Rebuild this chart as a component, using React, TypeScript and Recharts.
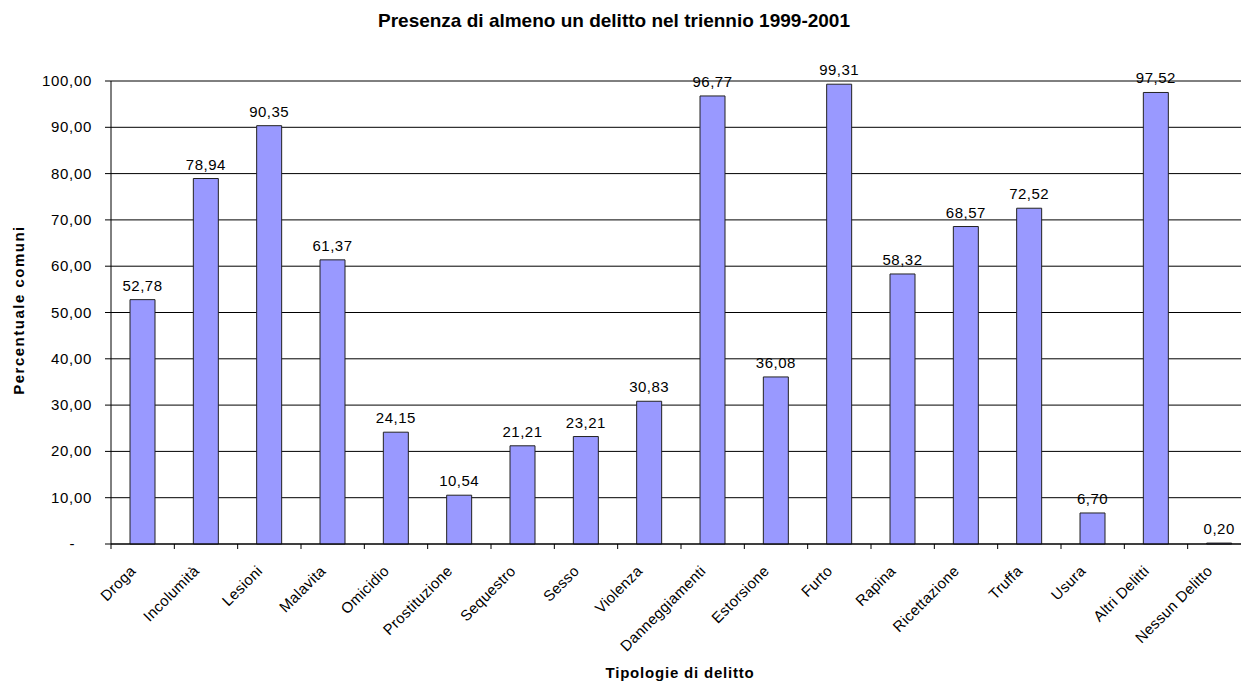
import { Bar, BarChart, CartesianGrid, LabelList, XAxis, YAxis } from "recharts";

const categories = [
  "Droga",
  "Incolumità",
  "Lesioni",
  "Malavita",
  "Omicidio",
  "Prostituzione",
  "Sequestro",
  "Sesso",
  "Violenza",
  "Danneggiamenti",
  "Estorsione",
  "Furto",
  "Rapina",
  "Ricettazione",
  "Truffa",
  "Usura",
  "Altri Delitti",
  "Nessun Delitto"
];

const percentuali = [
  52.78, 78.94, 90.35, 61.37, 24.15, 10.54, 21.21, 23.21, 30.83, 96.77, 36.08, 99.31, 58.32,
  68.57, 72.52, 6.7, 97.52, 0.2
];

const yTicks = [0, 10, 20, 30, 40, 50, 60, 70, 80, 90, 100];

const data = categories.map((name, i) => ({ name, value: percentuali[i] }));

const CHART_W = 1252;
const CHART_H = 684;
const PLOT_LEFT = 111;
const PLOT_RIGHT = 1251;
const band = (PLOT_RIGHT - PLOT_LEFT) / categories.length;

const fmt = (v: number) => v.toFixed(2).replace(".", ",");

const font = "Arial, 'Liberation Sans', sans-serif";

const XTick = (props: any) => {
  const { x, y, payload, index } = props;
  const tx = x - 6;
  const ty = y + 28;
  return (
    <g>
      <line x1={x - band / 2} x2={x - band / 2} y1={y} y2={y + 5} stroke="#000" />
      {index === categories.length - 1 && (
        <line x1={x + band / 2} x2={x + band / 2} y1={y} y2={y + 5} stroke="#000" />
      )}
      <text
        x={tx}
        y={ty}
        textAnchor="end"
        fontSize={15}
        letterSpacing={0.3}
        fontFamily={font}
        fill="#000"
        transform={`rotate(-45, ${tx}, ${ty})`}
      >
        {payload.value}
      </text>
    </g>
  );
};

const YTick = (props: any) => {
  const { x, y, payload } = props;
  if (payload.value === 0) {
    return (
      <text x={72} y={y} dy={5} textAnchor="middle" fontSize={15} fontFamily={font} fill="#000">
        -
      </text>
    );
  }
  return (
    <text
      x={x}
      y={y}
      dy={5}
      textAnchor="end"
      fontSize={15}
      letterSpacing={0.7}
      fontFamily={font}
      fill="#000"
    >
      {fmt(payload.value)}
    </text>
  );
};

export default function App() {
  return (
    <div
      style={{
        position: "absolute",
        left: 0,
        top: 0,
        width: 1241,
        height: 684,
        overflow: "hidden",
        background: "#fff"
      }}
    >
      <BarChart
        width={CHART_W}
        height={CHART_H}
        data={data}
        margin={{ top: 81, right: CHART_W - PLOT_RIGHT, left: 0, bottom: 0 }}
        barSize={25}
      >
        <CartesianGrid vertical={false} stroke="#000" strokeOpacity={1} />
        <XAxis
          dataKey="name"
          interval={0}
          height={CHART_H - 81 - 463}
          tickSize={0}
          tickMargin={0}
          tickLine={false}
          axisLine={{ stroke: "#000" }}
          tick={<XTick />}
        />
        <YAxis
          domain={[0, 100]}
          ticks={yTicks}
          width={PLOT_LEFT}
          tickSize={6}
          tickMargin={13}
          axisLine={{ stroke: "#000" }}
          tickLine={{ stroke: "#000" }}
          tick={<YTick />}
          interval={0}
        />
        <Bar dataKey="value" fill="#9999ff" stroke="#222" strokeWidth={1} isAnimationActive={false}>
          <LabelList
            dataKey="value"
            position="top"
            offset={9}
            formatter={(v: any) => fmt(Number(v))}
            style={{ fontSize: 15, fontFamily: font, fill: "#000", letterSpacing: 0.5 }}
          />
        </Bar>
      </BarChart>
      <div
        style={{
          position: "absolute",
          left: 314,
          width: 600,
          top: 11,
          height: 19,
          lineHeight: "19px",
          textAlign: "center",
          fontFamily: font,
          fontWeight: "bold",
          fontSize: 19,
          whiteSpace: "nowrap",
          color: "#000"
        }}
      >
        Presenza di almeno un delitto nel triennio 1999-2001
      </div>
      <div
        style={{
          position: "absolute",
          left: 19 - 100,
          top: 310 - 10,
          width: 200,
          height: 20,
          lineHeight: "20px",
          textAlign: "center",
          transform: "rotate(-90deg)",
          fontFamily: font,
          fontWeight: "bold",
          fontSize: 15,
          letterSpacing: 1.5,
          color: "#000"
        }}
      >
        Percentuale comuni
      </div>
      <div
        style={{
          position: "absolute",
          left: 680 - 150,
          top: 663,
          width: 300,
          height: 20,
          lineHeight: "20px",
          textAlign: "center",
          fontFamily: font,
          fontWeight: "bold",
          fontSize: 15,
          letterSpacing: 0.8,
          color: "#000"
        }}
      >
        Tipologie di delitto
      </div>
    </div>
  );
}
